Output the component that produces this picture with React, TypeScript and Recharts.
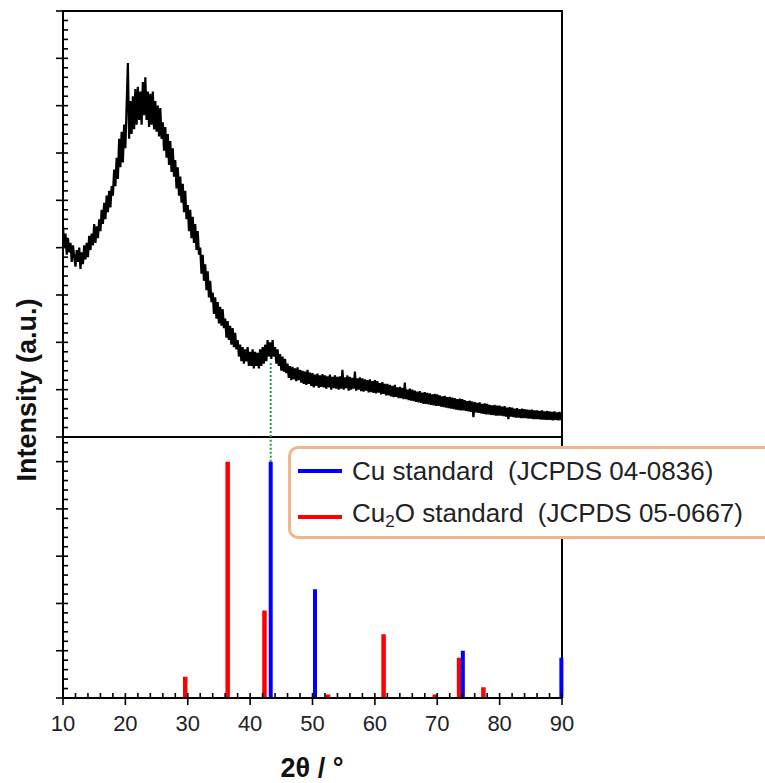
import React from "react";
import {
  LineChart,
  Line,
  XAxis,
  YAxis,
  ReferenceArea,
  ReferenceLine,
} from "recharts";

// measured pattern, 2θ from 10° in 0.2° steps
const scanStart = 10;
const scanStep = 0.2;
const sampleIntensity = [
  4.45, 4.0, 4.3, 3.85, 4.2, 3.9, 4.1, 3.7, 4.05, 3.8,
  3.6, 3.95, 3.7, 4.0, 3.55, 3.9, 3.65, 4.05, 3.75, 4.1,
  3.8, 4.25, 3.95, 4.3, 4.05, 4.5, 4.1, 4.45, 4.2, 4.6,
  4.35, 4.8, 4.5, 4.95, 4.6, 5.1, 4.75, 5.2, 4.85, 5.3,
  5.1, 5.65, 5.3, 5.9, 5.45, 6.3, 5.7, 6.45, 5.8, 6.6,
  6.1, 7.0, 7.9, 6.3, 7.1, 6.4, 7.2, 6.5, 7.35, 6.6,
  7.4, 6.7, 7.3, 6.6, 7.5, 6.8, 7.6, 6.7, 7.3, 6.55,
  7.25, 6.6, 7.3, 6.5, 7.1, 6.45, 7.0, 6.35, 6.95, 6.3,
  6.65, 6.05, 6.55, 5.9, 6.4, 5.75, 6.25, 5.6, 6.1, 5.5,
  5.85, 5.25, 5.7, 5.1, 5.5, 4.95, 5.35, 4.75, 5.2, 4.6,
  4.9, 4.35, 4.8, 4.2, 4.65, 4.1, 4.5, 3.95, 4.35, 3.85,
  4.0, 3.45, 3.85, 3.3, 3.65, 3.1, 3.5, 2.95, 3.3, 2.85,
  3.05, 2.6, 2.95, 2.5, 2.85, 2.4, 2.75, 2.35, 2.7, 2.3,
  2.5, 2.1, 2.45, 2.05, 2.35, 1.95, 2.3, 1.9, 2.2, 1.85,
  2.05, 1.7, 1.95, 1.6, 1.9, 1.55, 1.85, 1.6, 1.9, 1.5,
  1.8, 1.5, 1.85, 1.45, 1.8, 1.5, 1.78, 1.45, 1.85, 1.5,
  1.9, 1.55, 1.95, 1.6, 2.05, 1.7, 2.0, 1.65, 2.05, 1.7,
  1.9, 1.55, 1.85, 1.5, 1.75, 1.4, 1.7, 1.38, 1.65, 1.35,
  1.55, 1.25, 1.5, 1.2, 1.48, 1.22, 1.45, 1.18, 1.47, 1.2,
  1.42, 1.15, 1.4, 1.12, 1.38, 1.1, 1.42, 1.12, 1.36, 1.08,
  1.35, 1.05, 1.32, 1.08, 1.34, 1.04, 1.3, 1.06, 1.33, 1.05,
  1.3, 1.02, 1.28, 1.05, 1.32, 1.0, 1.27, 1.03, 1.3, 1.02,
  1.27, 1.0, 1.28, 1.02, 1.42, 1.0, 1.26, 1.03, 1.3, 0.98,
  1.27, 1.0, 1.25, 1.02, 1.38, 0.98, 1.24, 1.0, 1.26, 0.97,
  1.24, 0.96, 1.22, 0.98, 1.2, 0.94, 1.22, 0.95, 1.18, 0.93,
  1.2, 0.92, 1.18, 0.94, 1.14, 0.9, 1.16, 0.91, 1.12, 0.88,
  1.12, 0.88, 1.1, 0.86, 1.08, 0.84, 1.1, 0.85, 1.05, 0.82,
  1.06, 0.82, 1.04, 0.8, 1.15, 0.8, 1.0, 0.78, 1.02, 0.77,
  1.0, 0.76, 0.98, 0.74, 0.96, 0.73, 0.97, 0.72, 0.94, 0.7,
  0.95, 0.7, 0.93, 0.69, 0.92, 0.68, 0.9, 0.67, 0.91, 0.66,
  0.9, 0.66, 0.88, 0.64, 0.86, 0.63, 0.87, 0.62, 0.84, 0.61,
  0.85, 0.6, 0.83, 0.59, 0.82, 0.58, 0.8, 0.57, 0.81, 0.56,
  0.8, 0.56, 0.78, 0.55, 0.76, 0.54, 0.77, 0.53, 0.75, 0.42,
  0.74, 0.52, 0.72, 0.51, 0.73, 0.5, 0.7, 0.49, 0.71, 0.48,
  0.7, 0.48, 0.68, 0.47, 0.67, 0.46, 0.68, 0.45, 0.66, 0.45,
  0.66, 0.45, 0.64, 0.44, 0.65, 0.43, 0.62, 0.38, 0.63, 0.43,
  0.62, 0.42, 0.6, 0.41, 0.61, 0.41, 0.59, 0.4, 0.6, 0.4,
  0.59, 0.4, 0.58, 0.39, 0.57, 0.39, 0.58, 0.38, 0.56, 0.38,
  0.56, 0.38, 0.55, 0.37, 0.56, 0.37, 0.54, 0.36, 0.55, 0.36,
  0.54, 0.36, 0.53, 0.35, 0.54, 0.36, 0.52, 0.35, 0.53, 0.36,
  0.5,
];

// reference patterns (relative intensity, %)
const cuAngles = [43.3, 50.4, 74.1, 89.9];
const cuIntensity = [100, 46, 20, 17];
const cu2oAngles = [29.6, 36.4, 42.3, 52.5, 61.4, 69.6, 73.5, 77.4];
const cu2oIntensity = [9, 100, 37, 1.5, 27, 1.5, 17, 4.5];

const xMajorTicks = [10, 20, 30, 40, 50, 60, 70, 80, 90];
const topMajorTicks = [0, 1, 2, 3, 4, 5, 6, 7, 8, 9];
const bottomMajorTicks = [0, 20, 40, 60, 80, 100];
const cuMatchAngle = 43.3;

const font = "'Liberation Sans', Arial, sans-serif";

const subdivide = (majors: number[], parts: number, upTo: number) => {
  const step = (majors[1] - majors[0]) / parts;
  const out: number[] = [];
  for (let v = majors[0]; v <= upTo + 1e-9; v += step) out.push(+v.toFixed(4));
  return out;
};

const scanData = sampleIntensity.map((v, i) => ({
  x: +(scanStart + i * scanStep).toFixed(2),
  y: v,
}));

const sticks = (angles: number[], values: number[]) => {
  const out: { x: number; y: number | null }[] = [];
  angles.forEach((a, i) => {
    out.push({ x: a, y: 0 }, { x: a, y: values[i] }, { x: a, y: null });
  });
  return out;
};

const isMajor = (v: number, majors: number[]) =>
  majors.some((m) => Math.abs(m - v) < 1e-6);

const YTick = (majors: number[]) => (props: any) => {
  const { x, y, payload } = props;
  const major = isMajor(payload.value, majors);
  return (
    <line
      x1={major ? x - 7 : x}
      x2={x + 5}
      y1={y}
      y2={y}
      stroke="#000"
      strokeWidth={1.6}
    />
  );
};

const XTick = (props: any) => {
  const { x, y, payload } = props;
  const major = isMajor(payload.value, xMajorTicks);
  return (
    <g>
      <line
        x1={x}
        x2={x}
        y1={y - 5}
        y2={major ? y + 7 : y}
        stroke="#000"
        strokeWidth={1.6}
      />
      {major && (
        <text
          x={x}
          y={y + 33}
          textAnchor="middle"
          fontSize={22}
          fontFamily={font}
          fill="#222"
        >
          {payload.value}
        </text>
      )}
    </g>
  );
};

const App = () => {
  const xMinor = subdivide(xMajorTicks, 5, 90);
  const topTicks = subdivide(topMajorTicks, 5, 9);
  const bottomTicks = subdivide(bottomMajorTicks, 5, 108);
  return (
    <div
      style={{
        position: "absolute",
        left: 0,
        top: 0,
        width: 765,
        height: 783,
        overflow: "hidden",
        background: "#fff",
        fontFamily: font,
      }}
    >
      <div style={{ position: "absolute", left: 0, top: 0 }}>
        <LineChart
          width={765}
          height={438}
          margin={{ top: 11, right: 203, bottom: 1, left: 33 }}
        >
          <XAxis
            type="number"
            dataKey="x"
            domain={[10, 90]}
            allowDataOverflow
            hide
          />
          <YAxis
            type="number"
            domain={[0, 9]}
            width={30}
            ticks={topTicks}
            interval={0}
            tickSize={0}
            tickMargin={0}
            tickLine={false}
            tick={YTick(topMajorTicks)}
            axisLine={{ stroke: "#000", strokeWidth: 2 }}
          />
          <ReferenceArea
            x1={10}
            x2={90}
            y1={0}
            y2={9}
            fill="none"
            fillOpacity={0}
            stroke="#000"
            strokeWidth={2}
          />
          <ReferenceLine
            segment={[
              { x: cuMatchAngle, y: 0 },
              { x: cuMatchAngle, y: 1.58 },
            ]}
            stroke="#1f9a55"
            strokeWidth={2}
            strokeDasharray="2 2"
          />
          <Line
            data={scanData}
            dataKey="y"
            type="linear"
            stroke="#000"
            strokeWidth={2.2}
            dot={false}
            isAnimationActive={false}
          />
        </LineChart>
      </div>

      <div style={{ position: "absolute", left: 0, top: 437 }}>
        <LineChart
          width={765}
          height={346}
          margin={{ top: 1, right: 203, bottom: 55, left: 33 }}
        >
          <XAxis
            type="number"
            dataKey="x"
            domain={[10, 90]}
            height={30}
            ticks={xMinor}
            interval={0}
            tickSize={0}
            tickMargin={0}
            tickLine={false}
            tick={XTick}
            axisLine={{ stroke: "#000", strokeWidth: 2 }}
          />
          <YAxis
            type="number"
            domain={[0, 110]}
            width={30}
            ticks={bottomTicks}
            interval={0}
            tickSize={0}
            tickMargin={0}
            tickLine={false}
            tick={YTick(bottomMajorTicks)}
            axisLine={{ stroke: "#000", strokeWidth: 2 }}
          />
          <ReferenceLine x={90} stroke="#000" strokeWidth={2} />
          <ReferenceLine
            segment={[
              { x: cuMatchAngle, y: 100 },
              { x: cuMatchAngle, y: 110 },
            ]}
            stroke="#1f9a55"
            strokeWidth={2}
            strokeDasharray="2 2"
          />
          <Line
            data={sticks(cu2oAngles, cu2oIntensity)}
            dataKey="y"
            type="linear"
            stroke="#ff0000"
            strokeWidth={4.5}
            dot={false}
            isAnimationActive={false}
          />
          <Line
            data={sticks(cuAngles, cuIntensity)}
            dataKey="y"
            type="linear"
            stroke="#0000ff"
            strokeWidth={4}
            dot={false}
            isAnimationActive={false}
          />
        </LineChart>
      </div>

      {/* legend */}
      <div
        style={{
          position: "absolute",
          left: 288,
          top: 446,
          width: 520,
          height: 87,
          border: "3px solid #f2b48c",
          borderRadius: 10,
          background: "#fff",
          fontSize: 26,
          color: "#222",
        }}
      >
        {[
          { color: "#0000ff", label: <>Cu standard&nbsp;&nbsp;(JCPDS 04-0836)</> },
          {
            color: "#ff0000",
            label: (
              <>
                Cu<sub style={{ fontSize: 17, verticalAlign: -5 }}>2</sub>O
                standard&nbsp;&nbsp;(JCPDS 05-0667)
              </>
            ),
          },
        ].map((row, i) => (
          <div
            key={i}
            style={{
              position: "absolute",
              left: 7,
              top: 4 + i * 46,
              height: 36,
              display: "flex",
              alignItems: "center",
              whiteSpace: "nowrap",
            }}
          >
            <span
              style={{
                display: "inline-block",
                width: 44,
                height: 4,
                background: row.color,
                marginRight: 10,
              }}
            />
            <span style={{ lineHeight: "36px" }}>{row.label}</span>
          </div>
        ))}
      </div>

      {/* axis titles */}
      <div
        style={{
          position: "absolute",
          left: 27,
          top: 390,
          transform: "translate(-50%, -50%) rotate(-90deg)",
          fontSize: 27,
          fontWeight: "bold",
          whiteSpace: "nowrap",
          color: "#111",
        }}
      >
        Intensity (a.u.)
      </div>
      <div
        style={{
          position: "absolute",
          left: 312,
          top: 768,
          transform: "translate(-50%, -50%)",
          fontSize: 27,
          fontWeight: "bold",
          whiteSpace: "nowrap",
          color: "#111",
        }}
      >
        2θ / °
      </div>
    </div>
  );
};

export default App;
